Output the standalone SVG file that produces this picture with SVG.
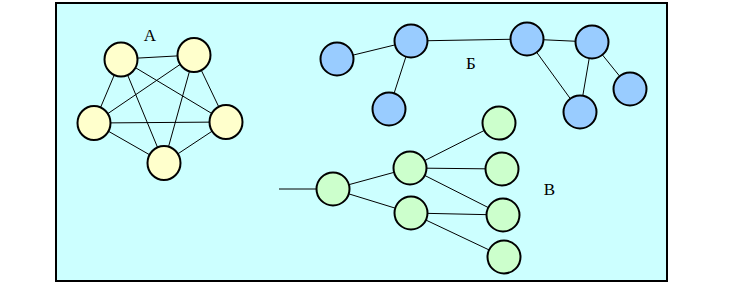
<svg xmlns="http://www.w3.org/2000/svg" width="736" height="286" viewBox="0 0 736 286">
<style>
.edge{stroke:#000;stroke-width:1;fill:none}
.n{stroke:#000;stroke-width:2}
.y{fill:#FFFFCC}
.b{fill:#99CCFF}
.g{fill:#CCFFCC}
.lbl{font-family:"Liberation Serif",serif;font-size:17px;fill:#000;text-anchor:middle}
</style>
<rect x="56" y="3" width="611" height="278" fill="#CCFFFF" stroke="#000" stroke-width="2"/>
<g id="connectors">
<line class="edge" x1="121" y1="59" x2="194" y2="55"/>
<line class="edge" x1="121" y1="59" x2="94" y2="123"/>
<line class="edge" x1="121" y1="59" x2="226" y2="122"/>
<line class="edge" x1="121" y1="59" x2="164" y2="163"/>
<line class="edge" x1="194" y1="55" x2="94" y2="123"/>
<line class="edge" x1="194" y1="55" x2="226" y2="122"/>
<line class="edge" x1="194" y1="55" x2="164" y2="163"/>
<line class="edge" x1="94" y1="123" x2="226" y2="122"/>
<line class="edge" x1="94" y1="123" x2="164" y2="163"/>
<line class="edge" x1="226" y1="122" x2="164" y2="163"/>
<line class="edge" x1="337" y1="59" x2="411" y2="41"/>
<line class="edge" x1="411" y1="41" x2="389" y2="109"/>
<line class="edge" x1="411" y1="41" x2="527" y2="39"/>
<line class="edge" x1="527" y1="39" x2="592" y2="42"/>
<line class="edge" x1="527" y1="39" x2="580" y2="112"/>
<line class="edge" x1="592" y1="42" x2="580" y2="112"/>
<line class="edge" x1="592" y1="42" x2="630" y2="89"/>
<line class="edge" x1="279" y1="189" x2="333" y2="189"/>
<line class="edge" x1="333" y1="189" x2="410" y2="168"/>
<line class="edge" x1="333" y1="189" x2="411" y2="213"/>
<line class="edge" x1="410" y1="168" x2="499" y2="123"/>
<line class="edge" x1="410" y1="168" x2="502" y2="169"/>
<line class="edge" x1="410" y1="168" x2="503" y2="215"/>
<line class="edge" x1="411" y1="213" x2="503" y2="215"/>
<line class="edge" x1="411" y1="213" x2="504" y2="257"/>
</g>
<g id="A-label"><text class="lbl" x="150" y="41">А</text></g>
<g id="A1"><ellipse class="n y" cx="121" cy="59.5" rx="16.5" ry="17"/></g>
<g id="A2"><ellipse class="n y" cx="194" cy="55" rx="16.5" ry="17"/></g>
<g id="A3"><ellipse class="n y" cx="94" cy="123" rx="16.5" ry="17"/></g>
<g id="A4"><ellipse class="n y" cx="226" cy="122" rx="16.5" ry="17"/></g>
<g id="A5"><ellipse class="n y" cx="164" cy="163" rx="16.5" ry="17"/></g>
<g id="B-label"><text class="lbl" x="471" y="69">Б</text></g>
<g id="B1"><circle class="n b" cx="337" cy="59" r="16.5"/></g>
<g id="B2"><circle class="n b" cx="411" cy="41" r="16.5"/></g>
<g id="B3"><circle class="n b" cx="389" cy="109" r="16.5"/></g>
<g id="B4"><circle class="n b" cx="527" cy="39" r="16.5"/></g>
<g id="B5"><circle class="n b" cx="592" cy="42" r="16.5"/></g>
<g id="B6"><circle class="n b" cx="580" cy="112" r="16.5"/></g>
<g id="B7"><circle class="n b" cx="630" cy="89" r="16.5"/></g>
<g id="C-label"><text class="lbl" x="549.5" y="195">В</text></g>
<g id="C0"><circle class="n g" cx="333" cy="189" r="16.5"/></g>
<g id="C1"><circle class="n g" cx="410" cy="168" r="16.5"/></g>
<g id="C2"><circle class="n g" cx="411" cy="213" r="16.5"/></g>
<g id="C3"><circle class="n g" cx="499" cy="123" r="16.5"/></g>
<g id="C4"><circle class="n g" cx="502" cy="169" r="16.5"/></g>
<g id="C5"><circle class="n g" cx="503" cy="215" r="16.5"/></g>
<g id="C6"><circle class="n g" cx="504" cy="257" r="16.5"/></g>
</svg>
